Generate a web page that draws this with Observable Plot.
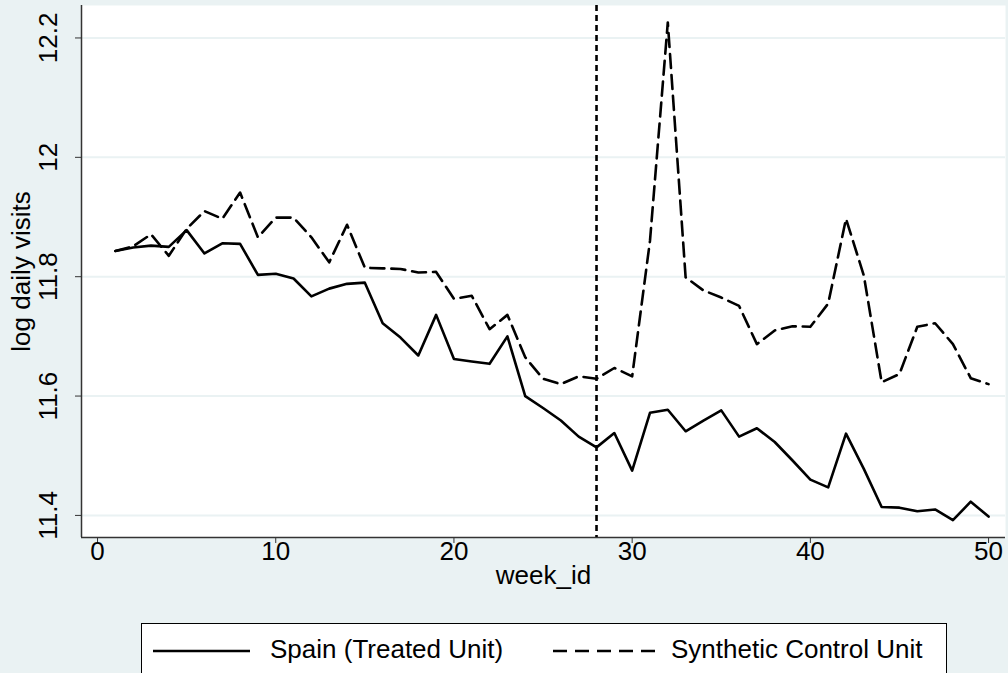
<!DOCTYPE html>
<html>
<head>
<meta charset="utf-8">
<script src="https://cdn.jsdelivr.net/npm/d3@7"></script>
<script src="https://cdn.jsdelivr.net/npm/@observablehq/plot@0.6"></script>
<style>
  html, body { margin: 0; padding: 0; background: #EAF2F3; overflow: hidden; width: 1008px; height: 673px; }
  #chart { position: absolute; left: 0; top: 0; }
  #legend { position: absolute; left: 141px; top: 623px; width: 806px; height: 60px; background: #fff; border: 1px solid #000; box-sizing: border-box;
    font-family: "Liberation Sans", Arial, sans-serif; font-size: 26px; color: #000; }
  .sample { position: absolute; top: 24px; }
  .label { position: absolute; top: 10px; white-space: nowrap; line-height: 30px; }
</style>
</head>
<body>
<div id="chart"></div>
<div id="legend"></div>
<script>
const weeks = d3.range(1, 51);
const spain = [11.843, 11.849, 11.852, 11.850, 11.878, 11.839, 11.856, 11.855, 11.803, 11.805,
  11.797, 11.767, 11.780, 11.788, 11.790, 11.722, 11.698, 11.668, 11.736, 11.662,
  11.658, 11.654, 11.700, 11.600, 11.580, 11.559, 11.532, 11.514, 11.538, 11.475,
  11.572, 11.577, 11.541, 11.559, 11.576, 11.532, 11.546, 11.523, 11.492, 11.460,
  11.447, 11.537, 11.478, 11.414, 11.413, 11.407, 11.410, 11.392, 11.423, 11.398];
const synthetic = [11.843, 11.851, 11.871, 11.835, 11.880, 11.910, 11.897, 11.941, 11.866, 11.899,
  11.899, 11.866, 11.824, 11.887, 11.815, 11.814, 11.813, 11.807, 11.808, 11.763,
  11.768, 11.712, 11.736, 11.665, 11.629, 11.620, 11.633, 11.629, 11.647, 11.633,
  11.860, 12.226, 11.799, 11.777, 11.765, 11.751, 11.687, 11.710, 11.717, 11.716,
  11.755, 11.897, 11.802, 11.623, 11.637, 11.716, 11.722, 11.687, 11.630, 11.620];
const xTicks = [0, 10, 20, 30, 40, 50];
const yTicks = [11.4, 11.6, 11.8, 12, 12.2];
const treatmentWeek = [28];
const seriesNames = ["Spain (Treated Unit)", "Synthetic Control Unit"];
const xTitle = "week_id";
const yTitle = "log daily visits";

const spainData = weeks.map((w, i) => ({week: w, value: spain[i]}));
const synthData = weeks.map((w, i) => ({week: w, value: synthetic[i]}));
const xDomain = [-0.9, 50.95];
const yDomain = [11.363, 12.2544];
const font = "'Liberation Sans', Arial, sans-serif";
const fs = 26;
const dash = "14,7";

const chart = Plot.plot({
  width: 1008,
  height: 600,
  marginLeft: 81,
  marginRight: 3,
  marginTop: 5,
  marginBottom: 63,
  style: {fontFamily: font, fontSize: fs + "px", background: "transparent", color: "#000"},
  x: {domain: xDomain, ticks: xTicks},
  y: {domain: yDomain, ticks: yTicks},
  marks: [
    Plot.frame({fill: "white", stroke: null}),
    Plot.gridY(yTicks, {stroke: "#EAF2F3", strokeWidth: 2, strokeOpacity: 1}),
    Plot.axisX({ticks: xTicks, tickSize: 6, label: null, stroke: "#333", tickFormat: () => ""}),
    Plot.axisY({ticks: yTicks, tickSize: 6, label: null, stroke: "#333", tickFormat: () => ""}),
    Plot.text(xTicks, {x: d => d, text: d => String(d), frameAnchor: "bottom", dy: 14,
      textAnchor: "middle", lineAnchor: "middle", fontSize: fs, fill: "#000"}),
    Plot.text(yTicks, {y: d => d, text: d => String(d), frameAnchor: "left", dx: -33, rotate: -90,
      textAnchor: "middle", lineAnchor: "middle", fontSize: fs, fill: "#000"}),
    Plot.text([yTitle], {frameAnchor: "left", dx: -60, rotate: -90, textAnchor: "middle", lineAnchor: "middle", fontSize: fs}),
    Plot.text([xTitle], {frameAnchor: "bottom", dy: 38, textAnchor: "middle", lineAnchor: "middle", fontSize: fs}),
    Plot.ruleX([xDomain[0]], {stroke: "#333", strokeWidth: 1.5}),
    Plot.ruleY([yDomain[0]], {stroke: "#333", strokeWidth: 1.5}),
    Plot.ruleX(treatmentWeek, {stroke: "#000", strokeWidth: 2.6, strokeDasharray: "6,4"}),
    Plot.line(synthData, {x: "week", y: "value", stroke: "#000", strokeWidth: 2.6, strokeDasharray: dash}),
    Plot.line(spainData, {x: "week", y: "value", stroke: "#000", strokeWidth: 2.6})
  ]
});
document.getElementById("chart").appendChild(chart);

const legend = document.getElementById("legend");
const dashes = [null, "14,8"];
const sampleLefts = [11, 411];
const sampleWidths = [97, 102];
const labelLefts = [128, 529];
seriesNames.forEach((name, i) => {
  const s = document.createElement("div");
  s.className = "sample";
  s.style.left = sampleLefts[i] + "px";
  const w = sampleWidths[i];
  s.innerHTML = `<svg width="${w}" height="6" style="display:block"><line x1="0" y1="3" x2="${w}" y2="3" stroke="#000" stroke-width="2.6" ${dashes[i] ? `stroke-dasharray="${dashes[i]}"` : ""}/></svg>`;
  legend.appendChild(s);
  const t = document.createElement("div");
  t.className = "label";
  t.style.left = labelLefts[i] + "px";
  t.textContent = name;
  legend.appendChild(t);
});
</script>
</body>
</html>
